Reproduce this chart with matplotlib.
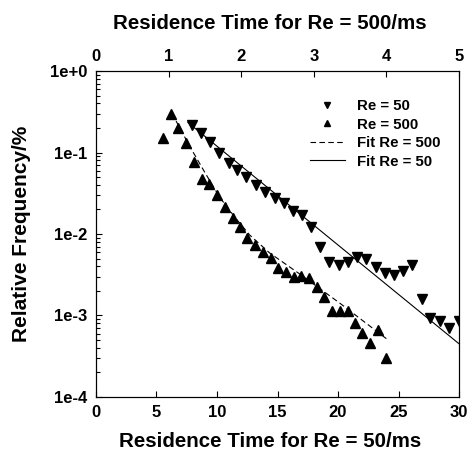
import matplotlib
matplotlib.use("Agg")
import matplotlib.pyplot as plt
from matplotlib.ticker import FixedLocator, LogLocator, NullFormatter, FuncFormatter

plt.rcParams['font.family'] = ['Liberation Sans', 'DejaVu Sans']
plt.rcParams['font.weight'] = 'bold'

# Re = 50 data (bottom axis, ms)
t50 = [7.9, 8.7, 9.45, 10.2, 10.96, 11.68, 12.42, 13.19, 14.0, 14.76, 15.5,
       16.28, 17.02, 17.77, 18.5, 19.29, 20.06, 20.83, 21.57, 22.35, 23.12,
       23.86, 24.6, 25.38, 26.15, 26.9, 27.64, 28.4, 29.18, 29.96]
f50 = [0.217, 0.172, 0.136, 0.0995, 0.075, 0.0605, 0.0497, 0.0399, 0.033,
       0.0274, 0.0238, 0.0193, 0.0171, 0.0123, 0.00699, 0.00457, 0.00416,
       0.00457, 0.00526, 0.0049, 0.0039, 0.0033, 0.00314, 0.00355, 0.00416,
       0.00158, 0.00094, 0.000857, 0.000697, 0.000863]

# Re = 500 data (top axis, ms)
t500 = [0.921, 1.027, 1.133, 1.238, 1.348, 1.454, 1.555, 1.664, 1.774, 1.882,
        1.981, 2.084, 2.195, 2.298, 2.406, 2.512, 2.619, 2.723, 2.829, 2.934,
        3.044, 3.143, 3.251, 3.357, 3.467, 3.570, 3.670, 3.780, 3.890, 3.998]
f500 = [0.149, 0.297, 0.198, 0.132, 0.0771, 0.0467, 0.0405, 0.0297, 0.0213,
        0.0159, 0.0123, 0.00886, 0.00733, 0.00593, 0.00503, 0.00388, 0.00345,
        0.00294, 0.00305, 0.00286, 0.00222, 0.00169, 0.00113, 0.00115, 0.00112,
        0.000802, 0.000605, 0.000464, 0.000664, 0.000305]

# Fit curves
fit500_t = [1.103, 1.289, 1.496, 1.702, 1.909, 2.116, 2.392, 2.806, 3.357, 4.005]
fit500_f = [0.2436, 0.120, 0.0576, 0.0284, 0.0162, 0.00973, 0.00585, 0.00323, 0.00142, 0.000515]
fit50_t = [7.6, 30.0]
fit50_f = [0.2333, 0.00045]

ytick_vals = [1e-4, 1e-3, 1e-2, 1e-1, 1e0]
ytick_labels = ['1e-4', '1e-3', '1e-2', '1e-1', '1e+0']

fig = plt.figure(figsize=(4.68, 4.59), dpi=100)
ax = fig.add_axes([0.2051, 0.1351, 0.7757, 0.7102])
ax.set_yscale('log')
ax.set_xlim(0, 30)
ax.set_ylim(1e-4, 1)

ax2 = ax.twiny()
ax2.set_xlim(0, 5)

ms = 7
l1, = ax.plot(t50, f50, linestyle='none', marker='v', color='black', markersize=ms)
l4, = ax.plot(fit50_t, fit50_f, color='black', linewidth=0.8)
l2, = ax2.plot(t500, f500, linestyle='none', marker='^', color='black', markersize=ms)
l3, = ax2.plot(fit500_t, fit500_f, color='black', linewidth=0.8, dashes=(5, 3))

ax.yaxis.set_major_locator(FixedLocator(ytick_vals))
ax.yaxis.set_major_formatter(FuncFormatter(lambda v, p: dict(zip(ytick_vals, ytick_labels)).get(v, '')))
ax.yaxis.set_minor_locator(LogLocator(base=10, subs=range(2, 10)))
ax.yaxis.set_minor_formatter(NullFormatter())

ax.set_xticks([0, 5, 10, 15, 20, 25, 30])
ax2.set_xticks([0, 1, 2, 3, 4, 5])

tls = 12
ax.tick_params(axis='both', which='major', direction='in', length=4, width=0.8,
               labelsize=tls, pad=6)
ax.tick_params(axis='y', which='minor', direction='in', length=3, width=0.8)
ax.tick_params(axis='y', which='both', right=False)
ax.tick_params(axis='x', which='both', top=False)
ax2.tick_params(axis='x', which='major', direction='in', length=4, width=0.8,
                labelsize=tls, pad=5)

for lab in ax.get_xticklabels() + ax.get_yticklabels() + ax2.get_xticklabels():
    lab.set_fontweight('bold')

ax.set_xlabel('Residence Time for Re = 50/ms', fontsize=14.8, fontweight='bold')
ax2.set_xlabel('Residence Time for Re = 500/ms', fontsize=14.8, fontweight='bold')
ax.set_ylabel('Relative Frequency/%', fontsize=15, fontweight='bold')
ax.xaxis.set_label_coords(0.479, -0.106)
ax2.xaxis.set_label_coords(0.479, 1.13)
ax.yaxis.set_label_coords(-0.18, 0.5)

leg = ax.legend([l1, l2, l3, l4], ['Re = 50', 'Re = 500', 'Fit Re = 500', 'Fit Re = 50'],
                loc='upper right', bbox_to_anchor=(0.985, 0.955), frameon=False,
                markerscale=0.7, handlelength=2.3, labelspacing=0.3,
                handletextpad=0.8, prop={'weight': 'bold', 'size': 10.8})

fig.savefig('out.png', dpi=100)
